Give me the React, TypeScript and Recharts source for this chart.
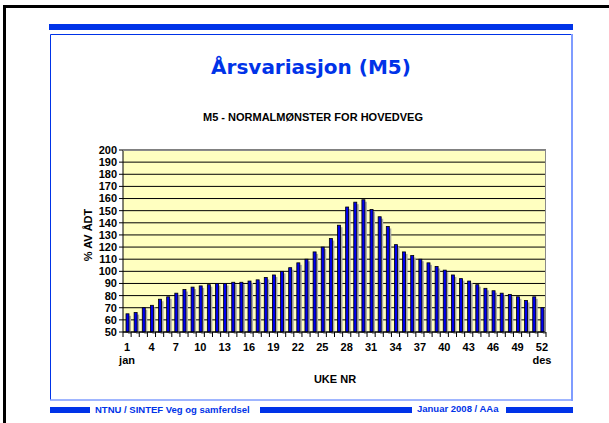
import React from 'react'
import { BarChart, Bar, XAxis, YAxis, CartesianGrid } from 'recharts'

const weeks = [
  1, 2, 3, 4, 5, 6, 7, 8, 9, 10, 11, 12, 13, 14, 15, 16, 17, 18, 19, 20, 21, 22, 23, 24, 25, 26,
  27, 28, 29, 30, 31, 32, 33, 34, 35, 36, 37, 38, 39, 40, 41, 42, 43, 44, 45, 46, 47, 48, 49, 50, 51, 52,
]
const percentOfAdt = [
  65, 66, 70, 72, 77, 79, 82, 85, 87, 88, 89, 90, 90, 91, 91, 92, 93, 95, 97, 100, 103, 107, 110, 116, 120, 127,
  138, 153, 157, 159, 151, 145, 137, 122, 116, 113, 110, 107, 104, 101, 97, 94, 92, 89, 86, 84, 82, 81, 79, 76, 79, 70,
]
const labeledWeeks = [1, 4, 7, 10, 13, 16, 19, 22, 25, 28, 31, 34, 37, 40, 43, 46, 49, 52]
const monthLabels: Record<number, string> = { 1: 'jan', 52: 'des' }
const yTicks = [50, 60, 70, 80, 90, 100, 110, 120, 130, 140, 150, 160, 170, 180, 190, 200]

const chartData = weeks.map((week, i) => ({ week, value: percentOfAdt[i] }))

const W = 609
const H = 423
const PLOT_LEFT = 123
const PLOT_RIGHT = 546
const PLOT_TOP = 150
const PLOT_BOTTOM = 332
const BAND = (PLOT_RIGHT - PLOT_LEFT) / weeks.length

const FONT = '"Liberation Sans", Arial, sans-serif'
const BLUE = '#0033e8'

// bar with a grey drop shadow like the old Excel chart
function ShadowBar(props: any) {
  const { x, y, width, height } = props
  return (
    <g>
      <rect x={x + 2} y={y + 2} width={width} height={height} fill="#a8a8a8" />
      <rect x={x} y={y} width={width} height={height} fill="#0000f0" stroke="#000" strokeWidth={0.8} />
    </g>
  )
}

// tick marks between categories, label every third week
function WeekTick(props: any) {
  const { x, y, payload, index } = props
  const axisY = y - 7
  const left = x - BAND / 2
  const right = x + BAND / 2
  const week = payload.value
  return (
    <g>
      <line x1={left} x2={left} y1={axisY} y2={axisY + 5} stroke="#000" />
      {index === weeks.length - 1 && <line x1={right} x2={right} y1={axisY} y2={axisY + 5} stroke="#000" />}
      {labeledWeeks.includes(week) && (
        <text x={x} y={axisY + 19} textAnchor="middle" fontSize={11} fontWeight="bold" fontFamily={FONT} fill="#000">
          {week}
        </text>
      )}
      {monthLabels[week] && (
        <text x={x} y={axisY + 32} textAnchor="middle" fontSize={11} fontWeight="bold" fontFamily={FONT} fill="#000">
          {monthLabels[week]}
        </text>
      )}
    </g>
  )
}

export default function App() {
  return (
    <div style={{ position: 'absolute', left: 0, top: 0, width: W, height: H, background: '#fff', overflow: 'hidden' }}>
      <svg width={W} height={H} style={{ position: 'absolute', left: 0, top: 0 }}>
        {/* slide frame */}
        <rect x={4.5} y={6.5} width={700} height={500} fill="none" stroke="#000" strokeWidth={3} />
        <rect x={49} y={24} width={524} height={6} fill={BLUE} />
        <line x1={50.5} y1={34.5} x2={571} y2={34.5} stroke={BLUE} />
        <line x1={50.5} y1={34.5} x2={50.5} y2={400} stroke={BLUE} />
        <line x1={572} y1={34} x2={572} y2={401} stroke="#7f9cff" strokeWidth={2} />
        <line x1={50} y1={400} x2={573} y2={400} stroke="#7f9cff" strokeWidth={1.5} />
        <rect x={PLOT_LEFT} y={PLOT_TOP} width={PLOT_RIGHT - PLOT_LEFT} height={PLOT_BOTTOM - PLOT_TOP} fill="#ffffc0" />
        <text x={311} y={74} textAnchor="middle" fontSize={20} fontWeight="bold" fontFamily='"DejaVu Sans", sans-serif' fill={BLUE}>
          Årsvariasjon (M5)
        </text>
        <text x={313} y={121} textAnchor="middle" fontSize={11} fontWeight="bold" fontFamily={FONT} fill="#000">
          M5 - NORMALMØNSTER FOR HOVEDVEG
        </text>
        <text transform="translate(92,235) rotate(-90)" textAnchor="middle" fontSize={11} fontWeight="bold" fontFamily={FONT} fill="#000">
          % AV ÅDT
        </text>
        <text x={335} y={383} textAnchor="middle" fontSize={11} fontWeight="bold" fontFamily={FONT} fill="#000">
          UKE NR
        </text>
        {/* footer */}
        <rect x={50} y={407} width={40} height={6} fill={BLUE} />
        <rect x={260} y={407} width={152} height={6} fill={BLUE} />
        <rect x={506} y={407} width={67} height={6} fill={BLUE} />
        <text x={95} y={413} fontSize={9.5} fontWeight="bold" fontFamily={FONT} fill={BLUE}>
          NTNU / SINTEF Veg og samferdsel
        </text>
        <text x={417} y={412} fontSize={9.5} fontWeight="bold" fontFamily={FONT} fill={BLUE}>
          Januar 2008 / AAa
        </text>
      </svg>
      <div style={{ position: 'absolute', left: 0, top: 0 }}>
        <BarChart
          width={W}
          height={H}
          data={chartData}
          margin={{ top: PLOT_TOP, right: W - PLOT_RIGHT, bottom: 0, left: 0 }}
          barSize={3}
        >
          <CartesianGrid horizontal vertical={false} stroke="#000" />
          <XAxis
            dataKey="week"
            interval={0}
            height={H - PLOT_BOTTOM}
            tickSize={5}
            tickMargin={2}
            tickLine={false}
            axisLine={{ stroke: '#000' }}
            tick={<WeekTick />}
          />
          <YAxis
            type="number"
            domain={[50, 200]}
            ticks={yTicks}
            interval={0}
            width={PLOT_LEFT}
            tickSize={4}
            axisLine={{ stroke: '#000' }}
            tickLine={{ stroke: '#000' }}
            tick={{ fontSize: 11, fontWeight: 'bold', fill: '#000', fontFamily: FONT }}
          />
          <Bar dataKey="value" fill="#0000f0" shape={<ShadowBar />} isAnimationActive={false} />
        </BarChart>
      </div>
      <div
        style={{
          position: 'absolute',
          left: PLOT_LEFT,
          top: PLOT_TOP,
          width: PLOT_RIGHT - PLOT_LEFT,
          height: PLOT_BOTTOM - PLOT_TOP,
          borderTop: '1px solid #8a8a8a',
          borderRight: '1px solid #8a8a8a',
          boxSizing: 'border-box',
          pointerEvents: 'none',
        }}
      />
    </div>
  )
}
